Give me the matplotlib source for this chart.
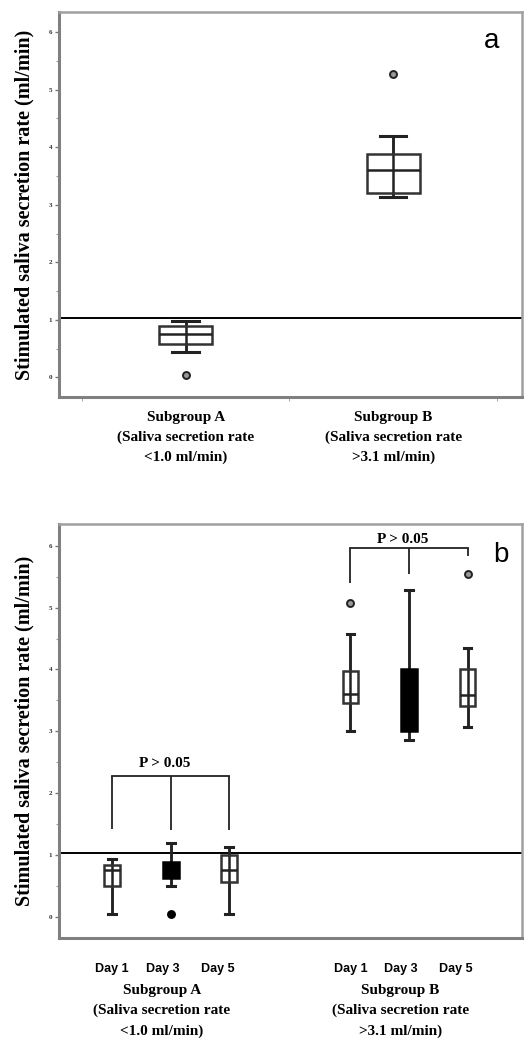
import matplotlib.pyplot as plt
from matplotlib.ticker import MultipleLocator

plt.rcParams['font.family'] = ['Liberation Serif', 'DejaVu Serif']

# panel a: stimulated saliva secretion per subgroup
groups = ['Subgroup A\n(Saliva secretion rate\n<1.0 ml/min)',
          'Subgroup B\n(Saliva secretion rate\n>3.1 ml/min)']
a_whislo = [0.45, 3.13]
a_q1 = [0.59, 3.20]
a_med = [0.76, 3.60]
a_q3 = [0.90, 3.89]
a_whishi = [0.98, 4.19]
a_fliers = [[0.05], [5.28]]

# panel b: the same subgroups on day 1, 3 and 5
days = ['Day 1', 'Day 3', 'Day 5']
b_whislo = [0.05, 0.50, 0.05, 3.01, 2.86, 3.07]
b_q1 = [0.50, 0.63, 0.57, 3.46, 3.01, 3.41]
b_med = [0.76, 0.75, 0.76, 3.61, 3.50, 3.58]
b_q3 = [0.84, 0.89, 1.00, 3.98, 4.01, 4.01]
b_whishi = [0.94, 1.20, 1.13, 4.58, 5.28, 4.34]
b_fliers = [[], [0.05], [], [5.08], [], [5.55]]
b_filled = [False, True, False, False, True, False]

cutoff = 1.03
p_text = 'P > 0.05'
ylabel = 'Stimulated saliva secretion rate (ml/min)'


def make_stats(lo, q1, med, q3, hi, fl):
    return [dict(whislo=a, q1=b, med=c, q3=d, whishi=e, fliers=f)
            for a, b, c, d, e, f in zip(lo, q1, med, q3, hi, fl)]


def style_axes(ax):
    for side in ['top', 'right']:
        ax.spines[side].set_color('#a0a0a0')
        ax.spines[side].set_linewidth(1.8)
    for side in ['left', 'bottom']:
        ax.spines[side].set_color('#808080')
        ax.spines[side].set_linewidth(2.2)
    ax.set_ylim(-0.34, 6.35)
    ax.yaxis.set_major_locator(MultipleLocator(1))
    ax.yaxis.set_minor_locator(MultipleLocator(0.5))
    ax.tick_params(axis='y', which='major', direction='out', length=3,
                   width=1, color='#777777', labelsize=5, labelcolor='#333333', pad=2)
    ax.tick_params(axis='y', which='minor', direction='out', length=2,
                   width=0.8, color='#999999')
    for t in ax.get_yticklabels():
        t.set_fontweight('bold')
    ax.set_ylabel(ylabel, fontsize=14.5, fontweight='bold', labelpad=10)
    ax.axhline(cutoff, color='black', lw=1.4, zorder=1)


def draw_boxes(ax, stats, pos, width, filled):
    ax.vlines(pos, [s['whislo'] for s in stats], [s['whishi'] for s in stats],
              color='#222222', lw=1.8, zorder=2)
    bp = ax.bxp(stats, positions=pos, widths=width, patch_artist=True,
                capwidths=width * 0.5, manage_ticks=False,
                boxprops=dict(edgecolor='#333333', linewidth=1.8),
                medianprops=dict(color='#222222', linewidth=1.8),
                whiskerprops=dict(color='#222222', linewidth=1.8),
                capprops=dict(color='#222222', linewidth=2.2),
                flierprops=dict(marker='o', markersize=5, markerfacecolor='#999999',
                                markeredgecolor='#222222', markeredgewidth=1.4))
    for box, med, fill, fl in zip(bp['boxes'], bp['medians'], filled, bp['fliers']):
        box.set_zorder(3)
        med.set_zorder(4)
        if fill:
            # solid boxes: everything black, median hidden in the fill
            box.set_facecolor('black')
            box.set_edgecolor('black')
            med.set_color('black')
            fl.set_markerfacecolor('black')
            fl.set_markeredgecolor('black')
        else:
            box.set_facecolor('none')
    return bp


fig = plt.figure(figsize=(5.28, 10.41), dpi=100)

# ---- panel a
ax1 = fig.add_axes([0.1117, 0.6186, 0.8769, 0.3699])
style_axes(ax1)
pos_a = [0.5, 1.5]
draw_boxes(ax1, make_stats(a_whislo, a_q1, a_med, a_q3, a_whishi, a_fliers),
           pos_a, 0.255, [False, False])
ax1.set_xlim(-0.11, 2.12)
ax1.set_xticks([0, 1, 2], minor=True)
ax1.set_xticks(pos_a)
ax1.set_xticklabels(groups, fontsize=11, fontweight='bold', linespacing=1.65)
ax1.tick_params(axis='x', which='major', length=0, pad=10)
ax1.tick_params(axis='x', which='minor', direction='out', length=3,
                color='#999999')
ax1.text(0.935, 0.925, 'a', transform=ax1.transAxes, ha='center', va='center',
         fontsize=20, family='Liberation Sans')

# ---- panel b
ax2 = fig.add_axes([0.1117, 0.0989, 0.8769, 0.3977])
style_axes(ax2)
pos_b = [1, 2, 3, 5.07, 6.07, 7.07]
draw_boxes(ax2, make_stats(b_whislo, b_q1, b_med, b_q3, b_whishi, b_fliers),
           pos_b, 0.27, b_filled)
ax2.set_xlim(0.09, 8.0)
ax2.set_xticks([])

# significance brackets: (boxes, bar height, leg ends, gap to text)
brackets = [(pos_b[:3], 2.28, [1.42, 1.41, 1.41], 0.1),
            (pos_b[3:], 5.97, [5.40, 5.55, 5.83], 0.03)]
for xs, top, legs, gap in brackets:
    ax2.plot([xs[0], xs[-1]], [top, top], color='#222222', lw=1.3)
    ax2.vlines(xs, legs, top, color='#222222', lw=1.3)
    ax2.text(sum(xs) / 3 - 0.1, top + gap, p_text, ha='center', va='bottom',
             fontsize=11, fontweight='bold')

ax2.text(0.955, 0.925, 'b', transform=ax2.transAxes, ha='center', va='center',
         fontsize=20, family='Liberation Sans')

# day labels and subgroup captions under the axis
xt = ax2.get_xaxis_transform()
day_shift = [0, -0.14, -0.2]
for k, group in enumerate(groups):
    xs = pos_b[3 * k:3 * k + 3]
    for x, d, s in zip(xs, days, day_shift):
        ax2.text(x + s, -0.075, d, transform=xt, ha='center', va='center',
                 fontsize=9, fontweight='bold', family='Liberation Sans')
    ax2.text(sum(xs) / 3 - 0.15, -0.11, group, transform=xt, ha='center', va='top',
             fontsize=11, fontweight='bold', linespacing=1.7)

fig.savefig('out.png', dpi=100)
